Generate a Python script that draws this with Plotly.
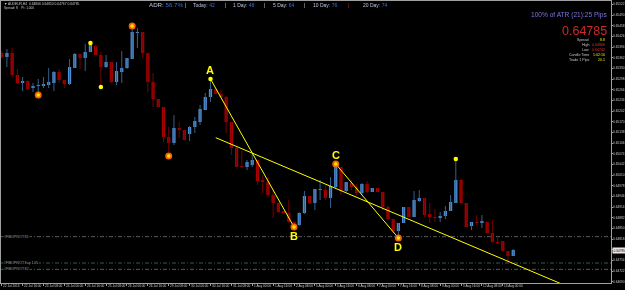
import plotly.graph_objects as go
import pandas as pd

# ---------------- data (H4 candles) ----------------
open_ = [0.65376, 0.65364, 0.65376, 0.65310, 0.65286, 0.65292, 0.65271, 0.65277, 0.65279, 0.65280,
         0.65286, 0.65319, 0.65295, 0.65283, 0.65331, 0.65373, 0.65361, 0.65379, 0.65397, 0.65370,
         0.65334, 0.65349, 0.65289, 0.65319, 0.65331, 0.65358, 0.65436, 0.65439, 0.65376, 0.65289,
         0.65238, 0.65214, 0.65124, 0.65106, 0.65151, 0.65145, 0.65133, 0.65154, 0.65169, 0.65205,
         0.65244, 0.65268, 0.65253, 0.65244, 0.65169, 0.65091, 0.65037, 0.65034, 0.65040, 0.65055,
         0.64995, 0.64989, 0.64950, 0.64926, 0.64902, 0.64896, 0.64869, 0.64860, 0.64896, 0.64947,
         0.64926, 0.64965, 0.64965, 0.64941, 0.64974, 0.65034, 0.64962, 0.64986, 0.64974, 0.64956,
         0.64983, 0.64959, 0.64971, 0.64959, 0.64914, 0.64878, 0.64842, 0.64866, 0.64914, 0.64884,
         0.64932, 0.64941, 0.64893, 0.64884, 0.64881, 0.64887, 0.64902, 0.64926, 0.64995, 0.64926,
         0.64857, 0.64869, 0.64866, 0.64869, 0.64836, 0.64809, 0.64812, 0.64782, 0.64767]
high = [0.65382, 0.65388, 0.65391, 0.65328, 0.65304, 0.65295, 0.65286, 0.65298, 0.65304, 0.65331,
        0.65322, 0.65328, 0.65295, 0.65358, 0.65376, 0.65373, 0.65403, 0.65403, 0.65400, 0.65379,
        0.65370, 0.65349, 0.65349, 0.65382, 0.65361, 0.65451, 0.65451, 0.65439, 0.65376, 0.65316,
        0.65238, 0.65214, 0.65154, 0.65190, 0.65169, 0.65145, 0.65157, 0.65184, 0.65220, 0.65256,
        0.65295, 0.65271, 0.65265, 0.65247, 0.65169, 0.65094, 0.65082, 0.65055, 0.65076, 0.65055,
        0.65010, 0.65004, 0.64965, 0.64926, 0.64902, 0.64935, 0.64872, 0.64899, 0.64962, 0.64947,
        0.64968, 0.64995, 0.64980, 0.65004, 0.65043, 0.65034, 0.64989, 0.64995, 0.64983, 0.64986,
        0.64992, 0.64971, 0.64971, 0.64959, 0.64920, 0.64878, 0.64866, 0.64914, 0.64914, 0.64962,
        0.64965, 0.64941, 0.64926, 0.64908, 0.64899, 0.64917, 0.64950, 0.65055, 0.64998, 0.64926,
        0.64869, 0.64890, 0.64890, 0.64869, 0.64875, 0.64824, 0.64812, 0.64782, 0.64788]
low = [0.65361, 0.65334, 0.65304, 0.65283, 0.65262, 0.65265, 0.65259, 0.65253, 0.65271, 0.65271,
       0.65262, 0.65286, 0.65271, 0.65280, 0.65331, 0.65328, 0.65322, 0.65379, 0.65370, 0.65280,
       0.65331, 0.65286, 0.65280, 0.65286, 0.65328, 0.65358, 0.65391, 0.65361, 0.65259, 0.65214,
       0.65214, 0.65109, 0.65079, 0.65100, 0.65121, 0.65115, 0.65112, 0.65136, 0.65160, 0.65205,
       0.65229, 0.65253, 0.65241, 0.65136, 0.65070, 0.65034, 0.65031, 0.65025, 0.65034, 0.64980,
       0.64956, 0.64944, 0.64881, 0.64896, 0.64896, 0.64866, 0.64854, 0.64857, 0.64893, 0.64923,
       0.64905, 0.64935, 0.64935, 0.64911, 0.64971, 0.64950, 0.64959, 0.64965, 0.64950, 0.64950,
       0.64956, 0.64959, 0.64959, 0.64905, 0.64875, 0.64836, 0.64824, 0.64866, 0.64884, 0.64884,
       0.64929, 0.64884, 0.64866, 0.64869, 0.64869, 0.64878, 0.64902, 0.64926, 0.64923, 0.64854,
       0.64845, 0.64860, 0.64851, 0.64836, 0.64806, 0.64803, 0.64779, 0.64743, 0.64767]
close = [0.65364, 0.65376, 0.65310, 0.65286, 0.65292, 0.65268, 0.65277, 0.65280, 0.65281, 0.65289,
         0.65319, 0.65295, 0.65283, 0.65334, 0.65373, 0.65361, 0.65379, 0.65400, 0.65370, 0.65334,
         0.65349, 0.65289, 0.65322, 0.65331, 0.65361, 0.65439, 0.65439, 0.65376, 0.65289, 0.65238,
         0.65214, 0.65124, 0.65106, 0.65151, 0.65145, 0.65115, 0.65154, 0.65172, 0.65208, 0.65244,
         0.65268, 0.65253, 0.65244, 0.65169, 0.65091, 0.65034, 0.65034, 0.65049, 0.65055, 0.64992,
         0.64989, 0.64950, 0.64926, 0.64899, 0.64896, 0.64869, 0.64860, 0.64896, 0.64947, 0.64926,
         0.64968, 0.64968, 0.64941, 0.64977, 0.65040, 0.64962, 0.64989, 0.64974, 0.64956, 0.64983,
         0.64959, 0.64971, 0.64959, 0.64914, 0.64878, 0.64842, 0.64866, 0.64914, 0.64884, 0.64935,
         0.64941, 0.64890, 0.64884, 0.64881, 0.64887, 0.64902, 0.64929, 0.64995, 0.64926, 0.64854,
         0.64869, 0.64866, 0.64872, 0.64836, 0.64809, 0.64806, 0.64782, 0.64767, 0.64785]

# fractal / zigzag dots
dot_idx = [7, 17, 19, 25, 32, 40, 56, 64, 76, 87]
dot_price = [0.65250, 0.65406, 0.65274, 0.65457, 0.65067, 0.65298, 0.64854, 0.65043, 0.64821, 0.65058]
dot_kind = ["orange", "yellow", "yellow", "orange", "orange", "yellow", "orange", "orange", "orange", "yellow"]

# ABCD points
wave_labels = ["A", "B", "C", "D"]
wave_idx = [40, 56, 64, 76]
wave_price = [0.65298, 0.64854, 0.65043, 0.64821]
wave_side = [1, -1, 1, -1]

# trend line anchors
trend_idx = [41, 110]
trend_price = [0.65122, 0.64665]

# pivot levels
pivot_price = [0.64825, 0.64746, 0.64727]
pivot_names = ["#FIBOPIVOT.S1", "#FIBOPIVOT.Sup 1.05", "#FIBOPIVOT.S2"]
pivot_colors = ["#5a5a5a", "#2f5f50", "#5a5a5a"]

# y ticks
ytick_start, ytick_step, ytick_count = 0.64690, 0.00032, 27

# ---------------- layout geometry ----------------
W, H = 625, 290
ML, MR, MT, MB = 1, 14, 1, 7
PW, PH = W - ML - MR, H - MT - MB


def px(x):
    return (x - ML) / PW


def py(y):
    return 1 - (y - MT) / PH


FONT = "Liberation Sans, Arial, sans-serif"
n = len(close)
idx = list(range(n))

# times for x labels
slots = pd.date_range("2013-07-22", periods=200, freq="4h")
slots = slots[slots.dayofweek < 5][:n]
tick_idx = list(range(0, n, 4))
tick_text = []
for k in tick_idx:
    d = slots[k]
    if k == 0:
        tick_text.append(f"{d.day} {d:%b %Y}")
    else:
        tick_text.append(f"{d.day} {d:%b %H:%M}")

fig = go.Figure()

# wicks
for up, col in [(True, "#34608c"), (False, "#7a0000")]:
    xs, ys = [], []
    for i in idx:
        if (close[i] >= open_[i]) == up:
            xs += [i, i, None]
            ys += [low[i], high[i], None]
    fig.add_trace(go.Scatter(x=xs, y=ys, mode="lines", line=dict(color=col, width=1),
                             hoverinfo="skip", showlegend=False))

# bodies
minh = 0.000025
for up, col in [(True, "#4f8fd6"), (False, "#a80000")]:
    bx, bb, bh = [], [], []
    for i in idx:
        if (close[i] >= open_[i]) == up:
            bx.append(i)
            bb.append(min(open_[i], close[i]))
            bh.append(max(abs(close[i] - open_[i]), minh))
    fig.add_trace(go.Bar(x=bx, y=bh, base=bb, width=0.62, marker=dict(color=col, line=dict(width=0)),
                         hoverinfo="skip", showlegend=False))

# yellow lines
line_style = dict(color="#ffff00", width=1)
fig.add_trace(go.Scatter(x=wave_idx[0:2], y=wave_price[0:2], mode="lines", line=line_style,
                         hoverinfo="skip", showlegend=False))
fig.add_trace(go.Scatter(x=wave_idx[2:4], y=wave_price[2:4], mode="lines", line=line_style,
                         hoverinfo="skip", showlegend=False))
fig.add_trace(go.Scatter(x=trend_idx, y=trend_price, mode="lines", line=line_style,
                         hoverinfo="skip", showlegend=False))

# dots
ox = [dot_idx[i] for i in range(len(dot_idx)) if dot_kind[i] == "orange"]
oy = [dot_price[i] for i in range(len(dot_idx)) if dot_kind[i] == "orange"]
yx = [dot_idx[i] for i in range(len(dot_idx)) if dot_kind[i] == "yellow"]
yy = [dot_price[i] for i in range(len(dot_idx)) if dot_kind[i] == "yellow"]
fig.add_trace(go.Scatter(x=ox, y=oy, mode="markers", marker=dict(color="#ff6a00", size=7, line=dict(width=0)),
                         opacity=0.95, hoverinfo="skip", showlegend=False))
fig.add_trace(go.Scatter(x=ox, y=oy, mode="markers", marker=dict(color="#ffe600", size=3.5, line=dict(width=0)),
                         hoverinfo="skip", showlegend=False))
fig.add_trace(go.Scatter(x=yx, y=yy, mode="markers", marker=dict(color="#ffff00", size=4.5, line=dict(width=0)),
                         hoverinfo="skip", showlegend=False))

annotations = []
# ABCD labels
for lab, xi, yp, s in zip(wave_labels, wave_idx, wave_price, wave_side):
    annotations.append(dict(x=xi, y=yp, xref="x", yref="y", text=f"<b>{lab}</b>", showarrow=False,
                            yshift=9 * s, font=dict(family=FONT, size=11, color="#ffff00")))

# pivot lines + names
shapes = []
for pp, nm, c in zip(pivot_price, pivot_names, pivot_colors):
    shapes.append(dict(type="line", xref="paper", x0=0, x1=1, yref="y", y0=pp, y1=pp,
                       line=dict(color=c, width=1, dash="4px,2px,1px,2px"), layer="below"))
    annotations.append(dict(x=px(3), y=pp, xref="paper", yref="y", text=nm, showarrow=False,
                            xanchor="left", yanchor="middle", bgcolor="#000000", borderpad=0,
                            font=dict(family=FONT, size=3.4, color="#a0a0a0")))

# x-axis labels (left-aligned at their tick, like the terminal)
for k, t in zip(tick_idx, tick_text):
    annotations.append(dict(x=k, y=py(286.3), xref="x", yref="paper", text=t, showarrow=False,
                            xanchor="left", yanchor="middle", xshift=0.5, borderpad=0,
                            font=dict(family=FONT, size=3.2, color="#c8c8c8")))

# y-axis labels
ytick_vals = [round(ytick_start + k * ytick_step, 5) for k in range(ytick_count)]
for v in ytick_vals:
    annotations.append(dict(x=px(612.3), y=v, xref="paper", yref="y", text=f"{v:.5f}", showarrow=False,
                            xanchor="left", yanchor="middle", borderpad=0,
                            font=dict(family=FONT, size=3.2, color="#c8c8c8")))

# top-left info
annotations.append(dict(x=px(3), y=py(4), xref="paper", yref="paper", showarrow=False,
                        xanchor="left", yanchor="middle", borderpad=0,
                        text="▼ AUDEUR,H4  0.64806 0.64810 0.64767 0.64785",
                        font=dict(family=FONT, size=3.3, color="#c8c8c8")))
annotations.append(dict(x=px(3), y=py(7.6), xref="paper", yref="paper", showarrow=False,
                        xanchor="left", yanchor="middle", borderpad=0,
                        text="Spread: 8    Pt: 1.000",
                        font=dict(family=FONT, size=3.2, color="#c8c8c8")))

# ADR row
lab_c, val_c = "#b8c4dc", "#3a6fd8"
adr_items = [("ADR: ", "56.7%", 148, 6.2), ("Today: ", "42", 192, 5.0), ("1 Day: ", "48", 232, 5.0),
             ("5 Day: ", "64", 272, 5.0), ("10 Day: ", "76", 312, 5.0), ("20 Day: ", "74", 362, 5.0)]
for lab, val, xx, fs in adr_items:
    annotations.append(dict(x=px(xx), y=py(4.5), xref="paper", yref="paper", showarrow=False,
                            xanchor="left", yanchor="middle", borderpad=0,
                            text=f"{lab}<span style='color:{val_c}'>{val}</span>",
                            font=dict(family=FONT, size=fs, color=lab_c)))
for xx, c in [(185, "#c0c0c0"), (225, "#c0c0c0"), (264, "#c0c0c0"), (304, "#c0c0c0"), (348, "#c02020")]:
    annotations.append(dict(x=px(xx), y=py(4.5), xref="paper", yref="paper", showarrow=False,
                            xanchor="center", yanchor="middle", borderpad=0, text="|",
                            font=dict(family=FONT, size=5.5, color=c)))

# right panel
annotations.append(dict(x=px(608), y=py(15), xref="paper", yref="paper", showarrow=False,
                        xanchor="right", yanchor="middle", borderpad=0,
                        text="100% of ATR (21):25 Pips",
                        font=dict(family=FONT, size=6.6, color="#7a74e0")))
annotations.append(dict(x=px(607.5), y=py(30.8), xref="paper", yref="paper", showarrow=False,
                        xanchor="right", yanchor="middle", borderpad=0,
                        text="0.64785", font=dict(family=FONT, size=12.5, color="#d02a2a")))
info_rows = [("Spread", "8.8", "#e6e600"), ("High", "0.64866", "#e03030"), ("Low", "0.64742", "#e03030"),
             ("Candle Time", "1:02:16", "#e6e600"), ("Trade 1 Pips", "20.1", "#e6e600")]
for k, (lab, val, c) in enumerate(info_rows):
    yy_ = 39.6 + 5 * k
    annotations.append(dict(x=px(590), y=py(yy_), xref="paper", yref="paper", showarrow=False,
                            xanchor="right", yanchor="middle", borderpad=0, text=lab,
                            font=dict(family=FONT, size=3.6, color="#c8c8c8")))
    annotations.append(dict(x=px(606), y=py(yy_), xref="paper", yref="paper", showarrow=False,
                            xanchor="right", yanchor="middle", borderpad=0, text=val,
                            font=dict(family=FONT, size=3.6, color=c)))

# current price tag on axis
annotations.append(dict(x=px(611.5), y=close[-1], xref="paper", yref="y", showarrow=False,
                        xanchor="left", yanchor="middle", borderpad=0.6, bgcolor="#e8e8e8",
                        text=f"{close[-1]:.5f}", font=dict(family=FONT, size=3.2, color="#000000")))

fig.update_layout(
    width=W, height=H,
    margin=dict(l=ML, r=MR, t=MT, b=MB, pad=0),
    paper_bgcolor="#000000", plot_bgcolor="#000000",
    barmode="overlay", showlegend=False,
    shapes=shapes, annotations=annotations,
    xaxis=dict(range=[-0.134, 116.73], showgrid=False, zeroline=False, tickmode="array",
               tickvals=tick_idx, ticks="outside", ticklen=2, tickcolor="#a0a0a0",
               showticklabels=False,
               showline=True, linecolor="#a0a0a0", linewidth=1, mirror=True, automargin=False,
               fixedrange=True),
    yaxis=dict(range=[0.64686, 0.65532], side="right", showgrid=False, zeroline=False,
               tickmode="array", tickvals=ytick_vals, ticks="outside", ticklen=1, tickcolor="#a0a0a0",
               showticklabels=False,
               showline=True, linecolor="#a0a0a0", linewidth=1, mirror=True, automargin=False,
               fixedrange=True),
)

fig.write_html("out.html")
